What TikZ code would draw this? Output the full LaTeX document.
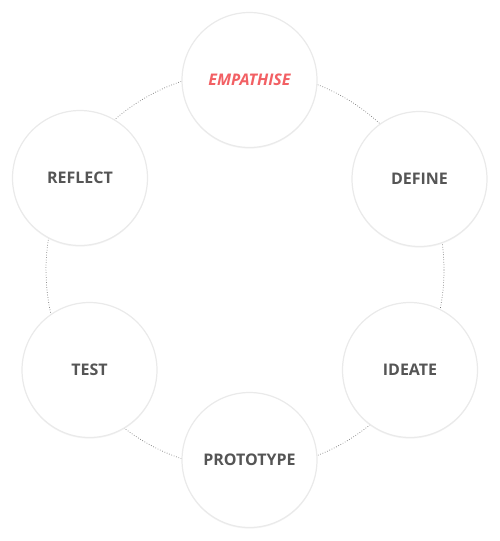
\documentclass[tikz,border=0pt]{standalone}
\usepackage{fontspec}
\setmainfont{Open Sans}
\usetikzlibrary{positioning,shadows}
\definecolor{stagegray}{RGB}{85,85,85}
\definecolor{stagered}{RGB}{242,96,100}
\definecolor{ringgray}{RGB}{234,234,234}
\definecolor{dotgray}{RGB}{120,120,120}
\begin{document}
\begin{tikzpicture}[x=1pt,y=-1pt,
  stage/.style={circle,fill=white,draw=ringgray,line width=1.2pt,minimum size=135pt,inner sep=0pt,
    font=\fontsize{16}{19}\selectfont\bfseries,text=stagegray,
    drop shadow={opacity=0.08,shadow xshift=0pt,shadow yshift=-1.2pt}},
  loop/.style={dotgray,line width=0.7pt,dash pattern=on 0.7pt off 1.8pt}]
\useasboundingbox (0,0) rectangle (500,541);
\coordinate (hub) at (245,270);
\draw[loop] (hub) circle (199pt);
\node[stage,text=stagered,font=\fontsize{16}{19}\selectfont\bfseries\itshape] (empathise) at (249.5,80) {EMPATHISE};
\node[stage] (define) at (419.5,179) {DEFINE};
\node[stage] (ideate) at (410,370) {IDEATE};
\node[stage] (prototype) at (249.5,460) {PROTOTYPE};
\node[stage] (test) at (89.5,370) {TEST};
\node[stage] (reflect) at (80,178) {REFLECT};
\end{tikzpicture}
\end{document}
